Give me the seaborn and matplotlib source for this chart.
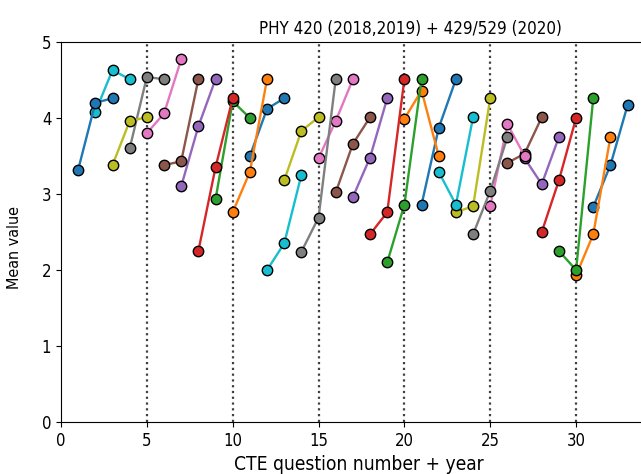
import numpy as np
import pandas as pd
import seaborn as sns
import matplotlib.pyplot as plt

plt.rcParams["font.stretch"] = "condensed"

# mean value per CTE question, one list per year
questions = list(range(1, 32))
mean_2018 = [3.32, 4.08, 3.38, 3.60, 3.80, 3.38, 3.10, 2.25, 2.93, 2.76,
             3.50, 2.00, 3.18, 2.24, 3.47, 3.02, 2.96, 2.47, 2.10, 3.99,
             2.86, 3.29, 2.76, 2.47, 2.84, 3.41, 3.47, 2.50, 2.25, 1.93, 2.83]
mean_2019 = [4.20, 4.63, 3.96, 4.54, 4.06, 3.43, 3.89, 3.35, 4.22, 3.29,
             4.12, 2.35, 3.83, 2.69, 3.96, 3.66, 3.48, 2.76, 2.86, 4.36,
             3.87, 2.86, 2.84, 3.04, 3.92, 3.53, 3.13, 3.18, 2.00, 2.47, 3.38]
mean_2020 = [4.26, 4.51, 4.01, 4.51, 4.77, 4.51, 4.51, 4.26, 4.00, 4.51,
             4.26, 3.25, 4.01, 4.51, 4.51, 4.01, 4.26, 4.51, 4.51, 3.50,
             4.51, 4.01, 4.26, 3.75, 3.50, 4.01, 3.75, 4.00, 4.26, 3.75, 4.17]
years = [2018, 2019, 2020]

rows = []
for i, q in enumerate(questions):
    for k, vals in enumerate([mean_2018, mean_2019, mean_2020]):
        rows.append({"question": q, "year": years[k], "x": q + k, "value": vals[i]})
df = pd.DataFrame(rows)

# last question drawn first, colours cycle through tab10
order = questions[::-1]
tab = sns.color_palette("tab10")
palette = {q: tab[j % 10] for j, q in enumerate(order)}

fig = plt.figure(figsize=(6.41, 4.74), dpi=100)
ax = fig.add_axes([61 / 641, 52 / 474, 34.65 * 17.17 / 641, 380 / 474])

for v in range(5, 31, 5):
    ax.axvline(v, color="0.25", ls=(0, (1, 1.6)), lw=1.6)

sns.lineplot(data=df, x="x", y="value", hue="question", hue_order=order,
             palette=palette, marker="o", markersize=7.5, markeredgecolor="k",
             markeredgewidth=1, lw=1.7, sort=False, legend=False, ax=ax)

ax.set_xlim(0, 34.65)
ax.set_ylim(0, 5)
ax.set_xticks(range(0, 31, 5))
ax.set_yticks(range(0, 6))
ax.tick_params(labelsize=12)
ax.set_xlabel("CTE question number + year", fontsize=13.8, labelpad=4)
ax.set_ylabel("Mean value", fontsize=11.5)
ax.yaxis.set_label_coords(-0.066, 0.46)
ax.set_title("PHY 420 (2018,2019) + 429/529 (2020)", fontsize=12.2, x=0.587)

fig.savefig("out.png", dpi=100)
